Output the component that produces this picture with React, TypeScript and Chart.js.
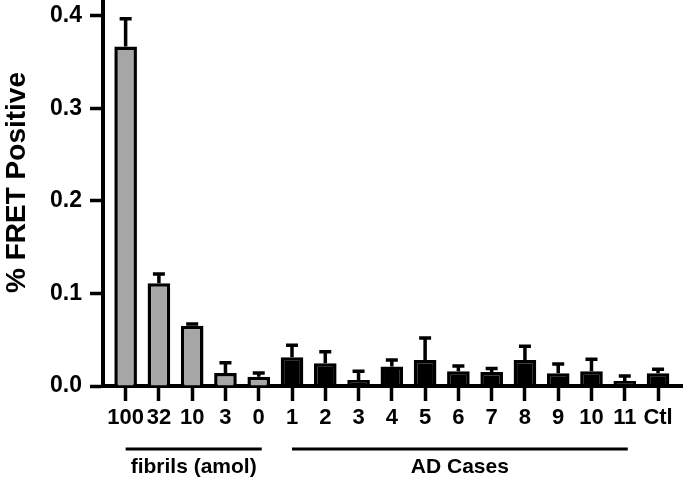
import React, { useEffect, useRef } from "react";
import { Chart, registerables } from "chart.js";

Chart.register(...registerables);

const categories = ["100", "32", "10", "3", "0", "1", "2", "3", "4", "5", "6", "7", "8", "9", "10", "11", "Ctl"];
const fretValues = [0.367, 0.111, 0.065, 0.014, 0.010, 0.031, 0.0245, 0.0065, 0.021, 0.028, 0.016, 0.015, 0.028, 0.0137, 0.016, 0.0054, 0.0137];
const fretErrors = [0.030, 0.010, 0.002, 0.011, 0.004, 0.013, 0.0125, 0.0095, 0.007, 0.024, 0.0056, 0.004, 0.015, 0.010, 0.013, 0.0054, 0.0045];
const fibrilCount = 5;
const groupLabels = ["fibrils (amol)", "AD Cases"];
const groupStart = [0, 5];
const groupEnd = [4, 15];
const yTicks = [0, 0.1, 0.2, 0.3, 0.4];

const FONT = "'Liberation Sans', Arial, sans-serif";

export default function App() {
  const ref = useRef<HTMLCanvasElement | null>(null);

  useEffect(() => {
    const canvas = ref.current;
    if (!canvas) return;

    const errorBars = {
      id: "errorBars",
      afterDatasetsDraw(chart: any) {
        const ctx = chart.ctx;
        const meta = chart.getDatasetMeta(0);
        const ys = chart.scales.y;
        ctx.save();
        ctx.strokeStyle = "#000";
        ctx.lineWidth = 3.5;
        meta.data.forEach((bar: any, i: number) => {
          const top = ys.getPixelForValue(fretValues[i] + fretErrors[i]);
          ctx.beginPath();
          ctx.moveTo(bar.x, bar.y);
          ctx.lineTo(bar.x, top);
          ctx.moveTo(bar.x - 6, top);
          ctx.lineTo(bar.x + 6, top);
          ctx.stroke();
        });
        ctx.restore();
      },
    };

    const extras = {
      id: "extras",
      afterDraw(chart: any) {
        const ctx = chart.ctx;
        const xs = chart.scales.x;
        const area = chart.chartArea;
        ctx.save();
        ctx.fillStyle = "#000";
        ctx.font = `bold 28px ${FONT}`;
        ctx.textAlign = "center";
        ctx.textBaseline = "middle";
        ctx.translate(17, area.top + (area.bottom - area.top) * 0.47);
        ctx.rotate(-Math.PI / 2);
        ctx.fillText("% FRET Positive", 0, 0);
        ctx.restore();

        ctx.save();
        ctx.strokeStyle = "#000";
        ctx.lineWidth = 3;
        ctx.fillStyle = "#000";
        ctx.font = `bold 21px ${FONT}`;
        ctx.textAlign = "center";
        ctx.textBaseline = "middle";
        const lineY = area.bottom + 63;
        groupLabels.forEach((lab, g) => {
          const x0 = xs.getPixelForValue(groupStart[g]);
          const x1 = xs.getPixelForValue(groupEnd[g]) + 3;
          ctx.beginPath();
          ctx.moveTo(x0, lineY);
          ctx.lineTo(x1, lineY);
          ctx.stroke();
          ctx.fillText(lab, (x0 + x1) / 2, lineY + 18);
        });
        ctx.restore();
      },
    };

    const chart = new Chart(canvas, {
      type: "bar",
      data: {
        datasets: [
          {
            data: fretValues.map((v, i) => ({ x: i, y: v })),
            backgroundColor: fretValues.map((_, i) => (i < fibrilCount ? "#a6a6a6" : "#000000")),
            borderColor: "#000000",
            borderWidth: 3.5,
            barPercentage: 0.68,
            categoryPercentage: 1,
          },
        ],
      },
      options: {
        responsive: false,
        animation: false,
        layout: { padding: { left: 0, right: 3, top: 2, bottom: 0 } },
        plugins: { legend: { display: false }, tooltip: { enabled: false } },
        scales: {
          x: {
            type: "linear",
            offset: false,
            min: -0.68,
            max: 16.72,
            afterBuildTicks: (scale: any) => {
              scale.ticks = categories.map((_, i) => ({ value: i }));
            },
            afterFit: (scale: any) => {
              scale.height = 96;
              scale.paddingLeft = 0;
              scale.paddingRight = 0;
            },
            ticks: {
              autoSkip: false,
              maxRotation: 0,
              minRotation: 0,
              padding: 4,
              color: "#000",
              font: { family: FONT, size: 22, weight: "bold" },
              callback: (v: any) => categories[Math.round(Number(v))] ?? "",
            },
            grid: {
              display: true,
              offset: false,
              drawOnChartArea: false,
              drawTicks: true,
              tickLength: 15,
              tickWidth: 3.5,
              tickColor: "#000",
            },
            border: { display: true, color: "#000", width: 4 },
          },
          y: {
            min: 0,
            max: 0.415,
            afterBuildTicks: (scale: any) => {
              scale.ticks = yTicks.map((v) => ({ value: v }));
            },
            afterFit: (scale: any) => {
              scale.width = 103;
              scale.paddingTop = 0;
              scale.paddingBottom = 0;
            },
            ticks: {
              padding: 8,
              color: "#000",
              font: { family: FONT, size: 23, weight: "bold" },
              callback: (v: any) => Number(v).toFixed(1),
            },
            grid: {
              display: true,
              drawOnChartArea: false,
              drawTicks: true,
              tickLength: 13,
              tickWidth: 3.5,
              tickColor: "#000",
            },
            border: { display: true, color: "#000", width: 4 },
          },
        },
      },
      plugins: [errorBars, extras],
    } as any);

    return () => chart.destroy();
  }, []);

  return (
    <div style={{ position: "fixed", left: 0, top: 0, width: 685, height: 482, background: "#fff" }}>
      <canvas ref={ref} width={685} height={482} style={{ display: "block" }} />
    </div>
  );
}
